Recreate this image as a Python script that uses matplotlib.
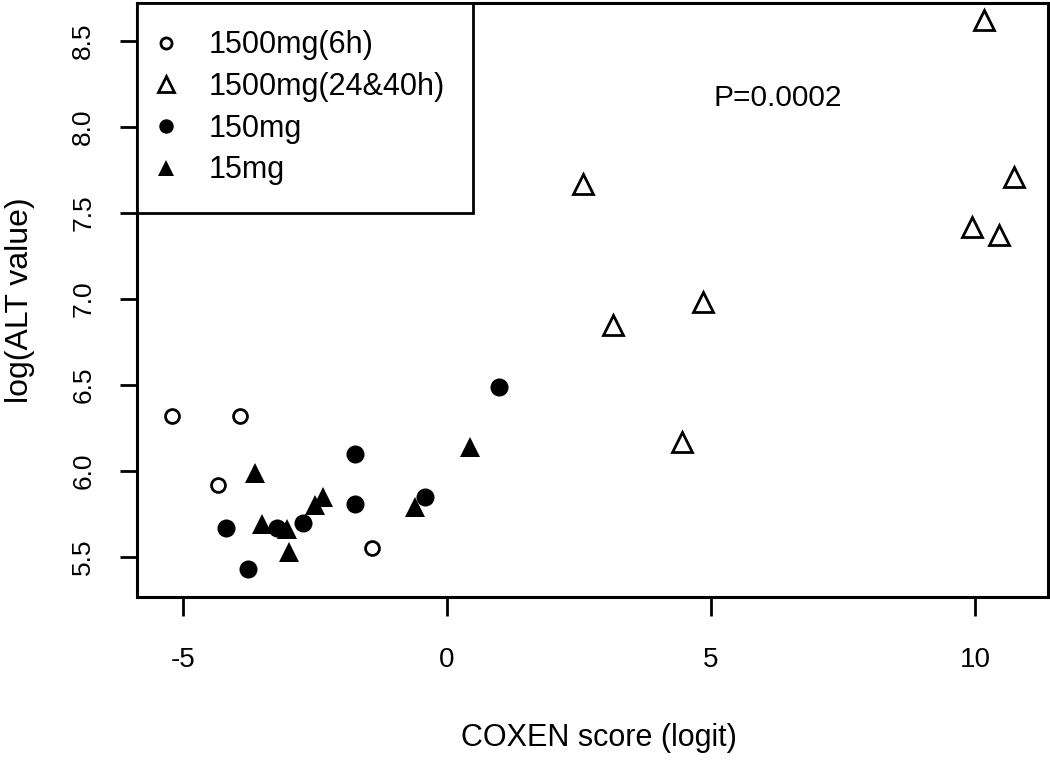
import matplotlib
matplotlib.use("Agg")
import matplotlib.pyplot as plt

# values
h6_x = [-5.21, -3.92, -4.34, -1.42]          # 1500mg(6h)
h6_y = [6.32, 6.32, 5.92, 5.55]

h24_x = [2.58, 3.14, 4.45, 4.85, 9.94, 10.17, 10.45, 10.74]   # 1500mg(24&40h)
h24_y = [7.67, 6.85, 6.17, 6.98, 7.42, 8.62, 7.37, 7.71]

mg150_x = [-4.19, -3.77, -3.22, -2.73, -1.74, -1.74, -0.42, 0.98]
mg150_y = [5.67, 5.43, 5.67, 5.70, 6.10, 5.81, 5.85, 6.49]

mg15_x = [-3.64, -3.50, -3.03, -2.99, -2.50, -2.35, -0.61, 0.44]
mg15_y = [5.99, 5.69, 5.66, 5.53, 5.80, 5.85, 5.79, 6.14]

labels = ["1500mg(6h)", "1500mg(24&40h)", "150mg", "15mg"]
xticks = [-5, 0, 5, 10]
yticks = [5.5, 6.0, 6.5, 7.0, 7.5, 8.0, 8.5]
p_text = "P=0.0002"

plt.rcParams["font.family"] = ["Liberation Sans", "DejaVu Sans"]

fig = plt.figure(figsize=(10.5, 7.67), dpi=100)
ax = fig.add_axes([0.1305, 0.2216, 0.8675, 0.7745])

ax.plot(h6_x, h6_y, "o", ms=10, mfc="white", mec="black", mew=2, label=labels[0])
ax.plot(h24_x, h24_y, "^", ms=15, mfc="white", mec="black", mew=2, label=labels[1])
ax.plot(mg150_x, mg150_y, "o", ms=13, mfc="black", mec="black", mew=0, label=labels[2])
ax.plot(mg15_x, mg15_y, "^", ms=14, mfc="black", mec="black", mew=0, label=labels[3])

ax.set_xlim(-5.87, 11.38)
ax.set_ylim(5.267, 8.721)

ax.set_xticks(xticks)
ax.set_xticklabels([str(t) for t in xticks], fontsize=20)
ax.set_yticks(yticks)
ax.set_yticklabels([f"{t:.1f}" for t in yticks], fontsize=19,
                   rotation=90, va="center")
ax.tick_params(axis="x", length=14, width=2, pad=22)
ax.tick_params(axis="y", length=12, width=2, pad=18)
for s in ax.spines.values():
    s.set_linewidth(2.2)

ax.set_xlabel("COXEN score (logit)", fontsize=22)
ax.xaxis.set_label_coords(0.507, -0.237)
ax.xaxis.label.set_va("center")
ax.set_ylabel("log(ALT value)", fontsize=23)
ax.yaxis.set_label_coords(-0.128, 0.5)
ax.yaxis.label.set_va("center")

ax.text(6.27, 8.17, p_text, fontsize=21.5, ha="center", va="center")

leg = ax.legend(loc="upper left", bbox_to_anchor=(0, 1), borderaxespad=0,
                fontsize=22, frameon=True, fancybox=False, edgecolor="black",
                framealpha=1, borderpad=0.9, labelspacing=0.38,
                handlelength=0.1, handletextpad=1.35, markerscale=0.8)
leg.get_frame().set_linewidth(2)

fig.savefig("out.png", dpi=100, facecolor="white")
